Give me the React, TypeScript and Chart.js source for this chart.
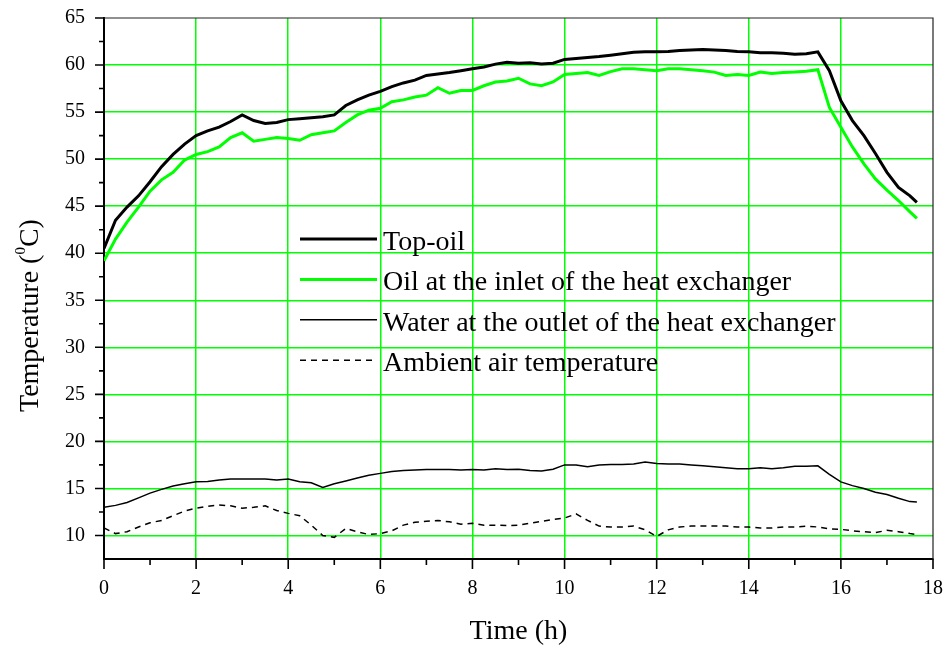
import React, { useEffect, useRef } from 'react';
import { Chart, registerables } from 'chart.js';

Chart.register(...registerables);

// ---- data (hours / degrees C) ----
const TIME = [
  0, 0.25, 0.5, 0.75, 1, 1.25, 1.5, 1.75, 2, 2.25, 2.5, 2.75, 3, 3.25, 3.5, 3.75,
  4, 4.25, 4.5, 4.75, 5, 5.25, 5.5, 5.75, 6, 6.25, 6.5, 6.75, 7, 7.25, 7.5, 7.75,
  8, 8.25, 8.5, 8.75, 9, 9.25, 9.5, 9.75, 10, 10.25, 10.5, 10.75, 11, 11.25, 11.5, 11.75,
  12, 12.25, 12.5, 12.75, 13, 13.25, 13.5, 13.75, 14, 14.25, 14.5, 14.75, 15, 15.25, 15.5, 15.75,
  16, 16.25, 16.5, 16.75, 17, 17.25, 17.5, 17.65,
];

const TOP_OIL = [
  40.5, 43.5, 44.9, 46.1, 47.6, 49.2, 50.5, 51.6, 52.5, 53.0, 53.4, 54.0, 54.7, 54.1, 53.8, 53.9,
  54.2, 54.3, 54.4, 54.5, 54.7, 55.7, 56.3, 56.8, 57.2, 57.7, 58.1, 58.4, 58.9, 59.05, 59.2, 59.4,
  59.6, 59.8, 60.1, 60.3, 60.2, 60.25, 60.1, 60.2, 60.6, 60.7, 60.8, 60.9, 61.05, 61.2, 61.35, 61.4,
  61.4, 61.45, 61.55, 61.6, 61.65, 61.6, 61.55, 61.45, 61.4, 61.3, 61.3, 61.25, 61.15, 61.2, 61.4, 59.4,
  56.2, 54.1, 52.5, 50.6, 48.6, 47.0, 46.1, 45.4,
];

const OIL_INLET = [
  39.2, 41.5, 43.3, 44.9, 46.6, 47.8, 48.6, 49.9, 50.5, 50.8, 51.3, 52.3, 52.8, 51.9, 52.1, 52.3,
  52.2, 52.0, 52.6, 52.8, 53.0, 53.9, 54.7, 55.2, 55.4, 56.1, 56.3, 56.6, 56.8, 57.6, 57.0, 57.3,
  57.3, 57.8, 58.2, 58.3, 58.6, 58.0, 57.8, 58.2, 59.0, 59.1, 59.2, 58.9, 59.3, 59.6, 59.6, 59.5,
  59.4, 59.6, 59.6, 59.5, 59.4, 59.25, 58.9, 59.0, 58.9, 59.25, 59.1, 59.2, 59.25, 59.35, 59.5, 55.5,
  53.4, 51.3, 49.5, 47.9, 46.7, 45.6, 44.4, 43.7,
];

const WATER_OUTLET = [
  13.0, 13.2, 13.5, 14.0, 14.5, 14.9, 15.25, 15.5, 15.7, 15.75, 15.9, 16.0, 16.0, 16.0, 16.0, 15.9,
  16.0, 15.7, 15.6, 15.1, 15.5, 15.8, 16.1, 16.4, 16.6, 16.8, 16.9, 16.95, 17.0, 17.0, 17.0, 16.95,
  17.0, 16.95, 17.1, 17.0, 17.05, 16.9, 16.85, 17.05, 17.5, 17.5, 17.3, 17.5, 17.55, 17.55, 17.6, 17.8,
  17.65, 17.6, 17.6, 17.5, 17.4, 17.3, 17.2, 17.1, 17.1, 17.2, 17.1, 17.2, 17.35, 17.35, 17.4, 16.5,
  15.7, 15.3, 15.0, 14.6, 14.35, 13.95, 13.6, 13.55,
];

const AMBIENT = [
  10.8, 10.2, 10.4, 10.9, 11.35, 11.6, 12.1, 12.6, 12.9, 13.1, 13.25, 13.15, 12.9, 13.0, 13.15, 12.65,
  12.35, 12.1, 11.1, 10.0, 9.8, 10.75, 10.4, 10.1, 10.2, 10.5, 11.1, 11.4, 11.5, 11.6, 11.45, 11.2,
  11.3, 11.1, 11.1, 11.05, 11.1, 11.3, 11.5, 11.7, 11.85, 12.3, 11.6, 11.0, 10.9, 10.9, 11.0, 10.6,
  9.9, 10.6, 10.9, 11.0, 11.0, 11.0, 11.0, 10.9, 10.9, 10.8, 10.8, 10.9, 10.9, 11.0, 10.9, 10.7,
  10.65, 10.5, 10.4, 10.3, 10.55, 10.4, 10.2, 10.1,
];

const SERIES_LABELS = [
  'Top-oil',
  'Oil at the inlet of the heat exchanger',
  'Water at the outlet of the heat exchanger',
  'Ambient air temperature',
];

const X_TICK_VALUES = [0, 2, 4, 6, 8, 10, 12, 14, 16, 18];
const X_MINOR_VALUES = [1, 3, 5, 7, 9, 11, 13, 15, 17];
const Y_TICK_VALUES = [10, 15, 20, 25, 30, 35, 40, 45, 50, 55, 60, 65];
const Y_MINOR_VALUES = [12.5, 17.5, 22.5, 27.5, 32.5, 37.5, 42.5, 47.5, 52.5, 57.5, 62.5];
const X_TITLE = 'Time (h)';
const Y_TITLE_PARTS = ['Temperature (', '0', 'C)'];

const FONT = 'Liberation Serif';
const GREEN = '#00ff00';

const toPoints = (ys: number[]) => ys.map((y, i) => ({ x: TIME[i], y }));

const decorPlugin = {
  id: 'decor',
  afterDraw(chart: any) {
    const { ctx, chartArea: a, scales } = chart;
    const xs = scales.x;
    const ys = scales.y;
    ctx.save();
    // frame top & right
    ctx.strokeStyle = '#222';
    ctx.lineWidth = 1.2;
    ctx.beginPath();
    ctx.moveTo(a.left, a.top);
    ctx.lineTo(a.right, a.top);
    ctx.lineTo(a.right, a.bottom);
    ctx.stroke();

    // tick marks
    ctx.strokeStyle = '#000';
    ctx.lineWidth = 1.6;
    ctx.beginPath();
    X_TICK_VALUES.forEach((v) => {
      const p = xs.getPixelForValue(v);
      ctx.moveTo(p, a.bottom);
      ctx.lineTo(p, a.bottom + 10);
    });
    X_MINOR_VALUES.forEach((v) => {
      const p = xs.getPixelForValue(v);
      ctx.moveTo(p, a.bottom);
      ctx.lineTo(p, a.bottom + 6);
    });
    Y_TICK_VALUES.forEach((v) => {
      const p = ys.getPixelForValue(v);
      ctx.moveTo(a.left, p);
      ctx.lineTo(a.left - 9, p);
    });
    Y_MINOR_VALUES.forEach((v) => {
      const p = ys.getPixelForValue(v);
      ctx.moveTo(a.left, p);
      ctx.lineTo(a.left - 5, p);
    });
    ctx.stroke();

    // x title
    ctx.fillStyle = '#000';
    ctx.font = `28px "${FONT}"`;
    ctx.textAlign = 'center';
    ctx.textBaseline = 'alphabetic';
    ctx.fillText(X_TITLE, (a.left + a.right) / 2, a.bottom + 80);

    // y title (rotated)
    ctx.save();
    ctx.translate(a.left - 66, a.bottom - 147);
    ctx.rotate(-Math.PI / 2);
    ctx.textAlign = 'left';
    let cx = 0;
    ctx.font = `28px "${FONT}"`;
    ctx.fillText(Y_TITLE_PARTS[0], cx, 0);
    cx += ctx.measureText(Y_TITLE_PARTS[0]).width;
    ctx.font = `15px "${FONT}"`;
    ctx.fillText(Y_TITLE_PARTS[1], cx, -13);
    cx += ctx.measureText(Y_TITLE_PARTS[1]).width;
    ctx.font = `28px "${FONT}"`;
    ctx.fillText(Y_TITLE_PARTS[2], cx, 0);
    ctx.restore();

    // legend
    const lx0 = a.left + 196;
    const lx1 = a.left + 273;
    const tx = a.left + 279;
    const ly0 = a.top + 221;
    const step = 40.4;
    chart.data.datasets.forEach((ds: any, i: number) => {
      const y = ly0 + i * step;
      ctx.strokeStyle = ds.borderColor;
      ctx.lineWidth = ds.borderWidth;
      ctx.setLineDash(ds.borderDash || []);
      ctx.beginPath();
      ctx.moveTo(lx0, y);
      ctx.lineTo(lx1, y);
      ctx.stroke();
      ctx.setLineDash([]);
      ctx.fillStyle = '#000';
      ctx.font = `28px "${FONT}"`;
      ctx.textAlign = 'left';
      ctx.textBaseline = 'alphabetic';
      ctx.fillText(ds.label, tx, y + 11);
    });
    ctx.restore();
  },
};

export default function App() {
  const ref = useRef<HTMLCanvasElement | null>(null);

  useEffect(() => {
    document.body.style.margin = '0';
    const canvas = ref.current;
    if (!canvas) return;
    const chart = new Chart(canvas, {
      type: 'line',
      data: {
        datasets: [
          {
            label: SERIES_LABELS[0],
            data: toPoints(TOP_OIL),
            borderColor: '#000',
            borderWidth: 3,
            pointRadius: 0,
            tension: 0,
          },
          {
            label: SERIES_LABELS[1],
            data: toPoints(OIL_INLET),
            borderColor: GREEN,
            borderWidth: 3,
            pointRadius: 0,
            tension: 0,
          },
          {
            label: SERIES_LABELS[2],
            data: toPoints(WATER_OUTLET),
            borderColor: '#000',
            borderWidth: 1.5,
            pointRadius: 0,
            tension: 0,
          },
          {
            label: SERIES_LABELS[3],
            data: toPoints(AMBIENT),
            borderColor: '#000',
            borderWidth: 1.5,
            borderDash: [6, 5],
            pointRadius: 0,
            tension: 0,
          },
        ],
      },
      options: {
        responsive: false,
        animation: false,
        devicePixelRatio: 1,
        layout: { padding: { top: 18, right: 12, left: 0, bottom: 0 } },
        plugins: {
          legend: { display: false },
          tooltip: { enabled: false },
          title: { display: false },
        },
        scales: {
          x: {
            type: 'linear',
            min: 0,
            max: 18,
            afterBuildTicks: (s: any) => {
              s.ticks = X_TICK_VALUES.map((v) => ({ value: v }));
            },
            afterFit: (s: any) => {
              s.height = 91;
              s.paddingLeft = 0;
              s.paddingRight = 0;
            },
            ticks: {
              font: { family: FONT, size: 20 },
              color: '#000',
              padding: 18,
              maxRotation: 0,
              autoSkip: false,
            },
            grid: {
              drawTicks: false,
              lineWidth: 1.5,
              color: (c: any) =>
                c.tick && (c.tick.value === 0 || c.tick.value === 18) ? 'rgba(0,0,0,0)' : GREEN,
            },
            border: { display: true, color: '#000', width: 2 },
          },
          y: {
            type: 'linear',
            min: 7.5,
            max: 65,
            afterBuildTicks: (s: any) => {
              s.ticks = Y_TICK_VALUES.map((v) => ({ value: v }));
            },
            afterFit: (s: any) => {
              s.width = 104;
              s.paddingTop = 0;
              s.paddingBottom = 0;
            },
            ticks: {
              font: { family: FONT, size: 20 },
              color: '#000',
              padding: 19,
              autoSkip: false,
            },
            grid: {
              drawTicks: false,
              lineWidth: 1.5,
              color: (c: any) => (c.tick && c.tick.value === 65 ? 'rgba(0,0,0,0)' : GREEN),
            },
            border: { display: true, color: '#000', width: 2 },
          },
        },
      },
      plugins: [decorPlugin],
    });
    return () => chart.destroy();
  }, []);

  return (
    <div style={{ position: 'absolute', left: 0, top: 0, width: 945, height: 650, background: '#fff' }}>
      <canvas ref={ref} width={945} height={650} style={{ display: 'block' }} />
    </div>
  );
}
